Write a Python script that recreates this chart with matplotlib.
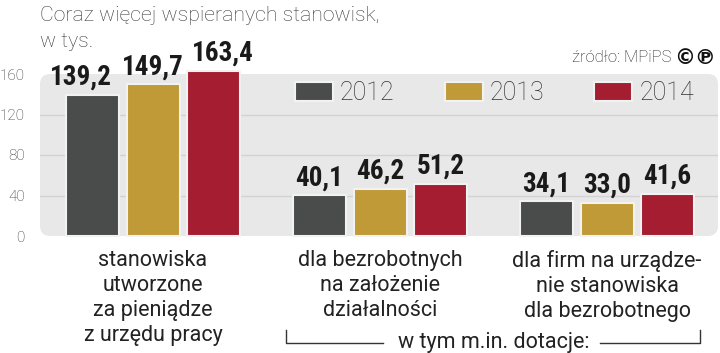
import numpy as np
import matplotlib
matplotlib.use('Agg')
import matplotlib.pyplot as plt
from matplotlib.patches import FancyBboxPatch, Patch
import matplotlib.transforms as mtransforms

# data
groups = ['stanowiska\nutworzone\nza pieniądze\nz urzędu pracy',
          'dla bezrobotnych\nna założenie\ndziałalności',
          'dla firm na urządze-\nnie stanowiska\ndla bezrobotnego']
years = ['2012', '2013', '2014']
v2012 = [139.2, 40.1, 34.1]
v2013 = [149.7, 46.2, 33.0]
v2014 = [163.4, 51.2, 41.6]
labels2012 = ['139,2', '40,1', '34,1']
labels2013 = ['149,7', '46,2', '33,0']
labels2014 = ['163,4', '51,2', '41,6']
yticks = [0, 40, 80, 120, 160]

colors = ['#4a4b4b', '#bf9a36', '#a51d31']
sans = ['Roboto', 'DejaVu Sans']
cond = ['Roboto Condensed', 'Barlow Condensed', 'Archivo Narrow', 'DejaVu Sans']
# sideways nudge of value labels (points), only the tall first group needs it
label_dx = [[-8, 0, 0], [0, 0, 0], [7, 0, 0]]

fig = plt.figure(figsize=(7.2, 3.53), dpi=100)
ax = fig.add_axes([40/720, 1-236/353, 678/720, 162/353])
ax.set_xlim(-0.498, 2.489)
ax.set_ylim(0, 160)
ax.patch.set_visible(False)
for s in ax.spines.values():
    s.set_visible(False)

# gray panel
panel = FancyBboxPatch((0, 0), 1, 1, boxstyle='round,pad=0,rounding_size=0.015',
                       transform=ax.transAxes, facecolor='#e8e8e8',
                       edgecolor='none', zorder=0, mutation_aspect=4.2)
ax.add_patch(panel)
for t in [40, 80, 120]:
    ax.axhline(t, color='#d3d3d3', lw=1, zorder=1)

x = np.arange(len(groups))
pitch = 0.2665
width = 0.2335
for i, (vals, labs) in enumerate(zip([v2012, v2013, v2014], [labels2012, labels2013, labels2014])):
    bars = ax.bar(x + (i - 1) * pitch, vals, width, color=colors[i], edgecolor='#f2f2f2',
                  linewidth=1.5, zorder=3, clip_on=False, label=years[i])
    for b in bars:
        b.set_joinstyle('round')
    for j, (xi, v, lab) in enumerate(zip(x + (i - 1) * pitch, vals, labs)):
        ax.annotate(lab, (xi, v), xytext=(label_dx[i][j], 3), textcoords='offset points',
                    ha='center', va='bottom', color='#1a1a1a', family=cond,
                    fontweight='bold', fontsize=19.5, annotation_clip=False)

ax.set_yticks(yticks)
ax.set_yticklabels([str(t) for t in yticks], fontsize=11, color='#333333',
                   family=sans, fontweight='light')
ax.tick_params(axis='y', length=0, pad=11)
ax.set_xticks(x)
ax.set_xticklabels(groups, fontsize=15.5, color='#222222', family=sans, linespacing=1.25)
ax.tick_params(axis='x', length=0, pad=10)

handles = [Patch(facecolor=c, edgecolor='#f2f2f2', lw=1.5) for c in colors]
leg = ax.legend(handles, years, loc='center left', bbox_to_anchor=(0.376, 0.882), ncol=3,
                frameon=False, borderpad=0, borderaxespad=0, handlelength=1.52,
                handleheight=0.84, handletextpad=0.28, columnspacing=2.0,
                prop={'family': sans, 'weight': 'light', 'size': 18})
for t in leg.get_texts():
    t.set_color('#333333')

# title, two lines
fig.text(40/720, 1-21/353, 'Coraz więcej wspieranych stanowisk,', ha='left', va='baseline',
         fontsize=15.3, family=sans, fontweight='light', color='#3a3a3a')
fig.text(40/720, 1-47/353, 'w tys.', ha='left', va='baseline',
         fontsize=15.3, family=sans, fontweight='light', color='#3a3a3a')
fig.text(671/720, 1-58/353, 'źródło: MPiPS', ha='right', va='center', fontsize=12,
         family=sans, fontweight='light', color='#222222')
fig.text(716/720, 1-58/353, '©℗', ha='right', va='center', fontsize=15,
         family='DejaVu Sans', fontweight='bold', color='#111111')

# bracket under two last groups
tr = mtransforms.blended_transform_factory(ax.transData, fig.transFigure)
ax.plot([0.586, 0.586, 1.013], [0.0652, 0.0283, 0.0283], color='#333333', lw=1,
        transform=tr, clip_on=False)
ax.plot([1.969, 2.41, 2.41], [0.0283, 0.0283, 0.0652], color='#333333', lw=1,
        transform=tr, clip_on=False)
ax.text(1.502, 0.0142, 'w tym m.in. dotacje:', ha='center', va='baseline', fontsize=15.5,
        family=sans, color='#222222', transform=tr)

fig.savefig('out.png', dpi=100)
